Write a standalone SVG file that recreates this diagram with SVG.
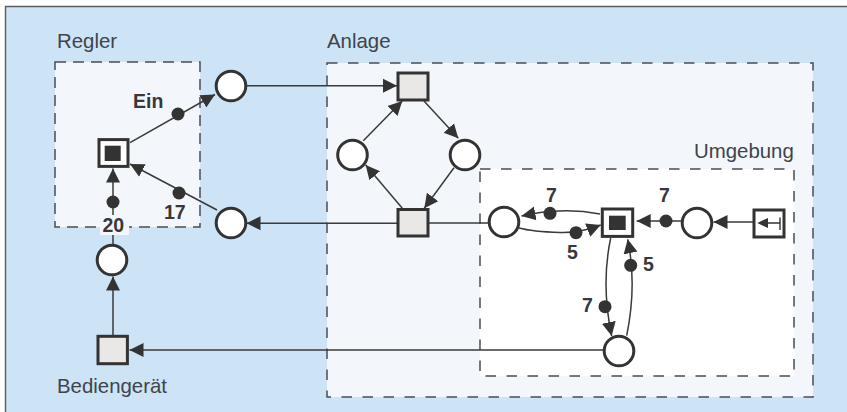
<svg xmlns="http://www.w3.org/2000/svg" width="847" height="412" viewBox="0 0 847 412">
<defs>
<marker id="arrow" markerUnits="userSpaceOnUse" markerWidth="16" markerHeight="16" refX="14" refY="7.500" orient="auto"><path d="M0,0.500 L14,7.500 L0,14.500 Z" fill="#333"/></marker>
</defs>
<style>
text{font-family:"Liberation Sans",Arial,sans-serif;fill:#40434a}
.l{font-size:20.400px}
.b{font-size:19.500px;font-weight:bold;fill:#38383a}
.zone{fill:#f3f7fc;stroke:none}
.in{fill:#fff;stroke:none}
.dash{fill:none;stroke:#4c4c50;stroke-width:1.500;stroke-dasharray:10.500 10.500}
.dash2{stroke-dasharray:11 7}
.c{fill:none;stroke:#3a3a3a;stroke-width:1.500}
.a{marker-end:url(#arrow)}
.p{fill:#fff;stroke:#333;stroke-width:3}
.t{fill:#e9e8e6;stroke:#333;stroke-width:3}
.s{fill:#fff;stroke:#333;stroke-width:3}
.k{fill:#333}
.w{fill:#f3f7fc}
</style>
<rect x="5" y="6" width="842" height="406" fill="#cde4f7"/>
<path d="M5.500,412V6.500H847" fill="none" stroke="#5c5c60" stroke-width="1.400"/>
<g id="zones">
<rect class="zone" x="55" y="62" width="145" height="165"/>
<rect class="zone" x="327" y="63" width="486" height="334"/>
<rect class="in" x="480" y="169" width="314" height="207"/>
<rect class="dash dash2" x="55" y="62" width="145" height="165"/>
<rect class="dash" x="327" y="63" width="486" height="334"/>
<rect class="dash" x="480" y="169" width="314" height="207"/>
</g>
<g id="connectors">
<line class="c a" x1="130" y1="142.700" x2="215" y2="94.500"/>
<line class="c a" x1="217" y1="210" x2="130" y2="164"/>
<line class="c a" x1="113" y1="245" x2="113" y2="168.500"/>
<line class="c a" x1="246" y1="85.700" x2="397" y2="85.700"/>
<line class="c a" x1="424" y1="101" x2="458.300" y2="138.300"/>
<line class="c a" x1="454" y1="167.700" x2="424.300" y2="208.300"/>
<line class="c a" x1="397" y1="223.300" x2="246.500" y2="223.300"/>
<line class="c a" x1="402.300" y1="208.300" x2="365.700" y2="165"/>
<line class="c a" x1="363.300" y1="140.700" x2="402.300" y2="101"/>
<line class="c" x1="429" y1="223" x2="489" y2="223"/>
<path class="c a" d="M600,214 C585,211 565,210 550,211.500 C540,212 532,214 521.500,216"/>
<path class="c a" d="M519,228 C530,231 545,232 560,232.500 C575,233 588,230 600.700,225"/>
<line class="c a" x1="681" y1="221" x2="636.700" y2="221"/>
<line class="c a" x1="753" y1="222" x2="713.500" y2="222"/>
<path class="c a" d="M610.700,238 C605,265 603,295 611.700,336"/>
<path class="c a" d="M626.700,335.700 C633,305 634,270 627.700,239.300"/>
<line class="c a" x1="603" y1="350" x2="129.500" y2="350"/>
<line class="c a" x1="113" y1="335" x2="113" y2="276.500"/>
</g>
<g id="tokens">
<circle class="k" cx="178" cy="114" r="6.500"/>
<circle class="k" cx="179" cy="193" r="6.500"/>
<circle class="k" cx="113" cy="202" r="6.500"/>
<circle class="k" cx="550" cy="213.300" r="6.500"/>
<circle class="k" cx="576" cy="232.700" r="6.500"/>
<circle class="k" cx="666" cy="221" r="6.500"/>
<circle class="k" cx="630.700" cy="265.300" r="6.500"/>
<circle class="k" cx="605" cy="306.700" r="6.500"/>
</g>
<g id="labels">
<text class="l" x="57" y="48">Regler</text>
<text class="l" x="327" y="48">Anlage</text>
<text class="l" x="694" y="158">Umgebung</text>
<text class="l" x="57" y="393">Bediengerät</text>
<text class="b" x="133" y="108">Ein</text>
<text class="b" x="164" y="219">17</text>
<rect class="w" x="100" y="215" width="29" height="20"/>
<text class="b" x="102.500" y="232">20</text>
<text class="b" x="546" y="202">7</text>
<text class="b" x="567" y="259">5</text>
<text class="b" x="659" y="202">7</text>
<text class="b" x="643" y="271">5</text>
<text class="b" x="582" y="312">7</text>
</g>
<g id="place-ein"><circle class="p" cx="231" cy="86" r="14.800"/></g>
<g id="place-regler-in"><circle class="p" cx="231" cy="223" r="14.800"/></g>
<g id="place-bedien"><circle class="p" cx="112" cy="260" r="14.800"/></g>
<g id="place-left"><circle class="p" cx="352.500" cy="155" r="14.800"/></g>
<g id="place-right"><circle class="p" cx="465" cy="155" r="14.800"/></g>
<g id="place-umg-left"><circle class="p" cx="504" cy="222" r="14.800"/></g>
<g id="place-umg-right"><circle class="p" cx="697" cy="223" r="14.800"/></g>
<g id="place-umg-bottom"><circle class="p" cx="619" cy="351" r="14.800"/></g>
<g id="trans-top"><rect class="t" x="398" y="73" width="30" height="27"/></g>
<g id="trans-bottom"><rect class="t" x="398" y="209.500" width="30" height="26.500"/></g>
<g id="trans-bedien"><rect class="t" x="98" y="336.300" width="29.400" height="27.400"/></g>
<g id="trans-regler"><rect class="s" x="99" y="139.600" width="29" height="26.800"/><rect class="k" x="104.700" y="145.700" width="16" height="15.300"/></g>
<g id="trans-umg"><rect class="s" x="602.300" y="209" width="30.400" height="27.400"/><rect class="k" x="609" y="215.700" width="16.700" height="14.300"/></g>
<g id="trans-source"><rect class="s" x="754" y="210" width="30" height="27"/><path d="M766,223H780M780,217.500V230" fill="none" stroke="#333" stroke-width="1.400"/><path d="M757.300,223L768,218V228Z" class="k"/></g>
</svg>
